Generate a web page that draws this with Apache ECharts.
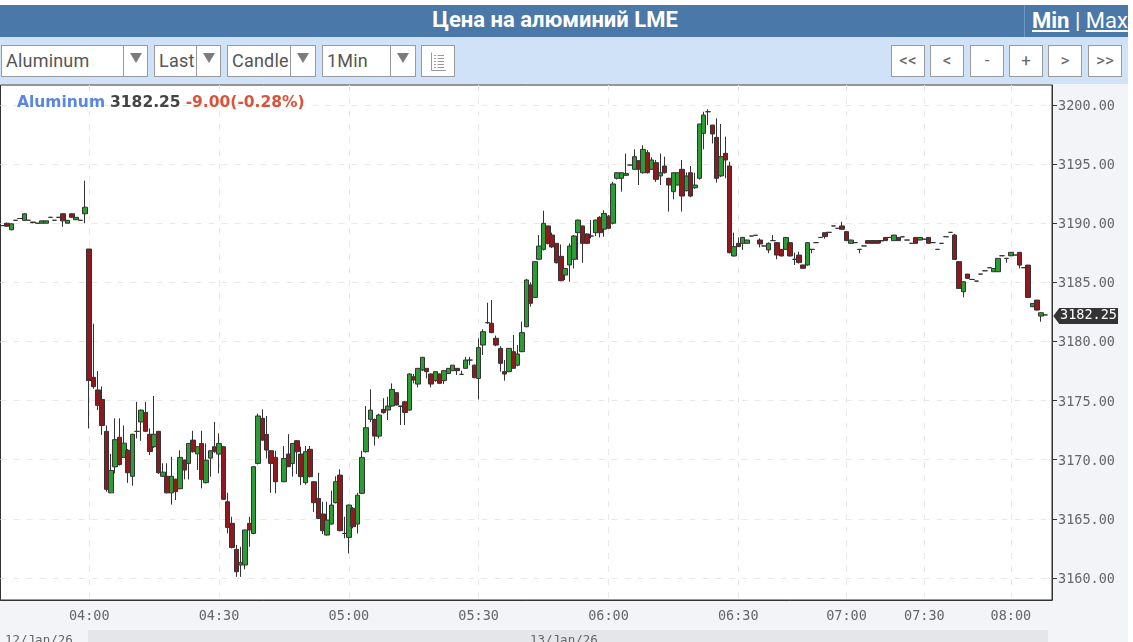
<!DOCTYPE html>
<html>
<head>
<meta charset="utf-8">
<script src="https://cdn.jsdelivr.net/npm/echarts@6/dist/echarts.min.js"></script>
<style>
html, body { margin: 0; padding: 0; background: #fff; overflow: hidden; }
body { width: 1133px; height: 642px; position: relative; font-family: Roboto, sans-serif; }
#page { position: absolute; left: 0; top: 5px; width: 1128px; height: 637px; background: #cfe2f8; overflow: hidden; }
#head { position: absolute; left: 0; top: 0; width: 1128px; height: 32px; background: #4a78a8; color: #fff; }
#head .name { position: absolute; left: 0; width: 1110px; top: 1px; text-align: center; font-size: 22px; font-weight: bold; line-height: 28px; }
#head .sw { position: absolute; left: 1024px; top: 0; height: 32px; border-left: 1px solid #6f97c0; padding-left: 7px; font-size: 22px; line-height: 31px; white-space: nowrap; }
#head u { text-underline-offset: 2px; }
.ctl { position: absolute; top: 40px; height: 30px; background: #fff; border: 1px solid #9a9a9a; font-size: 18px; line-height: 30px; color: #555; white-space: nowrap; overflow: hidden; box-sizing: content-box; }
.ctl .txt { position: absolute; left: 4px; top: 0; letter-spacing: 0.2px; }
.ctl .drop { position: absolute; top: 0; bottom: 0; right: 0; background: #fff; border-left: 1px solid #9a9a9a; }
.ctl .drop:after { content: ""; position: absolute; left: 50%; top: 7px; margin-left: -6px; border-left: 6px solid transparent; border-right: 6px solid transparent; border-top: 10px solid #7c7c7c; }
.btn { position: absolute; top: 40px; width: 32px; height: 30px; background: #fff; border: 1px solid #9a9a9a; text-align: center; font-size: 17px; line-height: 28px; color: #666; }
#chart { position: absolute; left: 0; top: 79px; width: 1128px; height: 558px; }
</style>
</head>
<body>
<div id="page">
	<div id="head">
		<div class="name">Цена на алюминий LME</div>
		<div class="sw"><u><b>Min</b></u> | <u>Max</u></div>
	</div>
	<div class="ctl" style="left:1px;width:145px"><span class="txt">Aluminum</span><span class="drop" style="width:23px"></span></div>
	<div class="ctl" style="left:154px;width:65px"><span class="txt">Last</span><span class="drop" style="width:23px"></span></div>
	<div class="ctl" style="left:227px;width:87px"><span class="txt">Candle</span><span class="drop" style="width:24px"></span></div>
	<div class="ctl" style="left:322px;width:92px"><span class="txt">1Min</span><span class="drop" style="width:24px"></span></div>
	<div class="ctl" style="left:421px;width:32px">
		<svg width="32" height="30" style="position:absolute;left:0;top:0">
			<path d="M9.5 6.5V24.5H24 M12 9.5H14 M15.5 9.5H22 M12 12.5H14 M15.5 12.5H22 M12 15.5H14 M15.5 15.5H22 M12 18.5H14 M15.5 18.5H22 M12 21.5H14 M15.5 21.5H22" stroke="#999" fill="none"/>
		</svg>
	</div>
	<div class="btn" style="left:891px">&lt;&lt;</div>
	<div class="btn" style="left:930px">&lt;</div>
	<div class="btn" style="left:970px">-</div>
	<div class="btn" style="left:1009px">+</div>
	<div class="btn" style="left:1048px">&gt;</div>
	<div class="btn" style="left:1088px">&gt;&gt;</div>
	<div id="chart"></div>
</div>
<script>
var color = [
	'#2c9c34',   // up body
	'#8e1a20',   // down body
	'#333333',   // body border and wick
	'#e8e8e8',   // grid dash
	'#666666',   // axis text
	'#f2f4f7',   // axis panel
	'#e4e6e9',   // date strip
	'#333333'    // last price tag
];

function run(h, a, b){
	var res = [];
	for(var m = a; m <= b; m++) res.push(h + ':' + (m < 10 ? '0' + m : m));
	return res;
}

// some minutes have no trade after 06:30, the axis skips them
var times = [].concat(
	run('03', 40, 59), run('04', 0, 59), run('05', 0, 59), run('06', 0, 44),
	['06:46','06:47','06:48','06:50','06:51','06:52','06:54','06:55','06:57','06:59'],
	['07:00','07:01','07:02','07:04','07:05','07:07','07:08','07:10','07:12','07:13','07:15','07:17','07:18','07:20','07:22','07:24','07:26','07:28'],
	['07:30','07:31','07:32','07:34','07:35','07:36','07:38','07:39','07:41','07:42','07:44','07:45','07:47','07:48','07:50','07:52','07:53','07:55','07:56','07:58'],
	run('08', 0, 9)
);

var tickTimes = ['04:00','04:30','05:00','05:30','06:00','06:30','07:00','07:30','08:00'];
var priceTicks = [3160, 3165, 3170, 3175, 3180, 3185, 3190, 3195, 3200];
var lastPrice = 3182.25;
var dates = ['12/Jan/26', '13/Jan/26'];

// open close low high
var ohlc = [
	// 03:40
	[3189.8,3189.8,3189.8,3189.8],[3190,3189.75,3189.7,3190.05],[3189.45,3189.95,3189.4,3190],[3190.25,3190.25,3190.25,3190.25],[3190.4,3190.4,3190.4,3190.4],
	[3190.25,3190.8,3190.2,3190.85],[3190.25,3190.25,3190.25,3190.25],[3190.05,3190.1,3190,3190.12],[3190,3190,3190,3190],[3190,3190.2,3190,3190.22],
	[3190,3190.2,3190,3190.22],[3190.5,3190.5,3190.5,3190.5],[3190.25,3190.25,3190.25,3190.25],[3190.5,3190.5,3190.5,3190.5],[3190.8,3190.2,3189.7,3190.85],
	[3190,3190.25,3190,3190.27],[3190.8,3190.5,3190.45,3190.82],[3190.3,3190.5,3190.28,3190.52],[3190.25,3190.25,3190.25,3190.25],[3190.8,3191.35,3190,3193.6],
	// 04:00
	[3187.82,3176.7,3172.65,3187.82],[3176.97,3176.18,3176,3181.5],[3175.9,3174.6,3174.2,3177.5],[3175.1,3172.9,3172.1,3176.2],[3172.4,3167.5,3167.3,3172.9],
	[3167.2,3169.1,3167.2,3170.5],[3169.4,3171.7,3168.85,3173.5],[3171.9,3169.6,3169.5,3173.5],[3170.2,3171.4,3170.2,3172.9],[3170.8,3168.9,3168.05,3170.9],
	[3168.6,3172.15,3167.8,3172.2],[3172.4,3172.4,3171.8,3174.9],[3173.2,3174.2,3171.6,3174.25],[3174,3172.4,3172.35,3174.9],[3172.15,3170.7,3170.4,3172.65],
	[3171.1,3172.15,3171,3175.4],[3172.4,3168.9,3168.8,3172.45],[3168.6,3168.95,3168.55,3169.7],[3168.6,3167.2,3167.15,3169.7],[3167.2,3168.6,3166.2,3170.25],
	[3168.35,3167.3,3166.6,3168.4],[3167.55,3170.2,3167.5,3170.8],[3169.97,3169.13,3168.34,3170],[3169.69,3171.38,3168.34,3171.4],[3171.66,3170.68,3170.6,3172.45],
	[3170.5,3171.1,3169.13,3171.15],[3171.38,3168.34,3167.58,3172.45],[3168.06,3169.97,3168,3171.38],[3170.14,3170.76,3168.57,3170.8],[3171.1,3170.68,3170.6,3173.2],
	// 04:30
	[3170.48,3171.38,3168.85,3172.23],[3171.1,3166.65,3166.6,3171.15],[3166.45,3164.28,3163.77,3167.2],[3164.62,3162.59,3162.5,3165.18],[3162.42,3160.53,3160.1,3162.8],
	[3161.1,3161.3,3160.1,3162.64],[3161.1,3164.06,3160.73,3164.1],[3164.62,3164.06,3162.64,3165.18],[3163.77,3169.41,3163.7,3169.45],[3169.69,3173.7,3169.6,3173.9],
	[3173.5,3171.66,3171.6,3174.26],[3172.14,3170.82,3170.1,3173.7],[3170.76,3169.69,3167.2,3170.8],[3170.2,3168.14,3167.15,3170.76],['-','-','-','-'],
	[3168.14,3170.1,3168.1,3171.16],[3170.48,3169.41,3169.4,3172.17],[3169.69,3171.38,3168.57,3171.4],[3171.61,3170.68,3168.79,3171.65],[3170.48,3168.57,3167.86,3171.1],
	[3168.06,3170.68,3167.9,3171.16],[3170.88,3168.57,3168.5,3171.16],[3168.14,3166.37,3165.6,3168.2],[3166.73,3165.04,3165,3168.9],[3165.41,3164,3163.72,3166.45],
	[3163.63,3164.9,3163.6,3166.45],[3164.56,3166.17,3164.5,3167.38],[3166.37,3168.14,3166.3,3168.6],[3168.7,3164,3163.95,3169.2],[3163.77,3163.76,3163.35,3165.18],
	// 05:00
	[3163.43,3166.17,3162.08,3166.2],[3165.89,3164.34,3164.2,3166],[3164.56,3167,3163.77,3167.2],[3167.16,3170.2,3167.1,3170.76],[3170.68,3172.71,3170.6,3174.54],
	[3173.42,3174.2,3173.2,3175.95],[3173.4,3172,3171.2,3173.5],[3172,3173.78,3171.8,3173.9],[3174.26,3173.98,3173.9,3175.2],[3174.2,3174.54,3173.36,3175.33],
	[3174.54,3175.95,3174.5,3176.46],[3175.67,3174.63,3174.6,3175.7],[3174.55,3174.5,3172.94,3174.56],[3174.9,3174,3172.94,3174.95],[3174.2,3177.25,3174.15,3177.3],
	[3177.02,3176.74,3176.46,3177.25],[3176.4,3177.73,3176.12,3177.75],[3177.59,3178.66,3177.5,3178.7],[3177.73,3177.45,3176.88,3177.75],[3177.25,3176.4,3176.12,3177.3],
	[3176.69,3177.45,3176.6,3177.5],[3177.25,3176.46,3176.4,3177.3],[3176.69,3177.53,3176.4,3177.55],[3177.3,3177.73,3177.25,3177.75],[3177.53,3178,3177.5,3178.02],
	[3177.73,3177.53,3177.17,3177.75],[3177.22,3177.22,3177.2,3177.53],[3177.73,3178.43,3177.7,3178.7],[3178.43,3178.43,3178,3178.7],[3178,3176.94,3176.9,3178.05],
	// 05:30
	[3176.88,3179.48,3175.1,3180.27],[3179.7,3180.83,3178.86,3181.03],[3181.6,3181.58,3181.5,3183.28],[3181.54,3180.75,3180.7,3183.5],[3180.27,3179.7,3179.6,3180.5],
	[3179.42,3178.15,3177.45,3179.6],[3177.45,3177.25,3176.69,3178.43],[3177.45,3179.42,3177.4,3179.45],[3179.14,3177.73,3177.7,3180.55],[3178,3178.94,3177.9,3179.7],
	[3179.14,3180.75,3179.1,3181.68],[3181.25,3185.2,3181.2,3185.3],[3184.78,3183.23,3182.95,3185],[3183.73,3186.75,3183.7,3186.8],[3186.95,3188.07,3186.9,3189],
	[3187.79,3189.99,3187.7,3191.06],[3189.77,3188.3,3188.2,3189.8],[3189,3188,3187.9,3189.2],[3188.3,3186.66,3186.6,3188.32],[3187.2,3185.14,3185.1,3188.2],
	[3185.62,3186.18,3185.2,3186.2],[3186.47,3188.07,3185.06,3188.3],[3186.95,3188.92,3186.18,3189],[3189.2,3190.27,3186.9,3190.3],[3189.77,3188.3,3186.66,3189.8],
	[3189.09,3188.3,3188.25,3189.15],[3188.92,3188.92,3188.72,3190.27],[3189.2,3190.27,3188.92,3190.3],[3190.5,3189.2,3188.8,3190.6],[3189.5,3190.83,3188.86,3191.1],
	// 06:00
	[3190.6,3189.57,3189.5,3190.7],[3190,3193.32,3189.9,3193.5],[3193.8,3194.27,3193.7,3194.3],[3193.8,3194.27,3192.67,3194.3],[3194.05,3194.2,3194,3195.9],
	[3194.92,3194.92,3194.92,3194.92],[3194.56,3195.63,3194.5,3196.25],[3195.29,3194.56,3193.23,3195.3],[3194.27,3196.25,3194.2,3196.6],[3195.97,3194.27,3194.2,3196.2],
	[3194.56,3195.35,3194.5,3195.57],[3195.12,3193.71,3193.5,3195.35],[3194,3194.27,3193.23,3195.9],[3194.84,3194.27,3194.2,3195.63],[3193.8,3193.23,3190.98,3193.85],
	[3192.67,3194.27,3192.02,3194.3],[3193.23,3194.27,3193.2,3194.3],[3194.56,3192.3,3190.98,3195.35],[3192.75,3194,3192.7,3194.3],[3194.27,3192.3,3192.2,3194.84],
	[3193,3193.23,3192.9,3194.27],[3193.8,3198.39,3193.7,3198.4],[3197.6,3199.15,3196.25,3199.43],[3199.43,3199.43,3198.3,3199.63],[3198.3,3197.55,3196.75,3198.32],
	[3197.26,3193.8,3193.43,3198.87],[3194,3195.63,3193.9,3198.39],[3195.91,3195.35,3193.8,3197.32],[3194.84,3187.51,3187.45,3195.2],[3187.23,3188.02,3187.2,3189.2],
	// 06:30
	[3188.3,3188.02,3188,3188.8],[3188.3,3188.8,3187.74,3188.85],[3188.3,3188.58,3188.28,3188.6],[3188.92,3188.92,3188.92,3188.92],[3188.98,3188.98,3188.98,3188.98],
	[3188.58,3188.25,3187.96,3188.72],[3188.08,3188.08,3188.08,3188.08],[3187.74,3188.3,3187.46,3188.38],[3188.53,3188.53,3188.5,3189],[3188.36,3187.31,3186.95,3188.4],
	[3187.79,3187.23,3187.2,3187.8],[3187.79,3188.8,3187.75,3188.82],[3188.36,3187.23,3187.2,3188.4],[3186.95,3186.95,3186.47,3187.51],[3187.31,3186.67,3186.6,3187.6],
	[3186.47,3186.19,3186.15,3186.5],[3186.47,3188.36,3186.4,3188.4],[3187.79,3187.79,3187.46,3187.8],[3188.36,3188.36,3188.36,3188.36],[3188.8,3188.8,3188.8,3188.8],
	[3189.2,3188.87,3188.7,3189.2],[3189.23,3189.23,3189.23,3189.23],[3189.77,3189.77,3189.77,3189.77],[3189.57,3189.57,3189.57,3189.57],[3189.77,3189.49,3189.45,3190.13],
	// 07:00
	[3189.29,3188.53,3188.5,3189.3],[3188.3,3188.58,3188.28,3188.6],[3188.36,3188.36,3188.36,3188.36],[3187.79,3187.79,3187.46,3187.8],[3188.08,3188.08,3188.08,3188.08],
	[3188.53,3188.3,3188.28,3188.55],[3188.53,3188.3,3188.28,3188.55],[3188.53,3188.3,3188.28,3188.55],[3188.53,3188.5,3188.3,3188.55],[3188.8,3188.53,3188.5,3188.82],
	[3188.8,3188.8,3188.8,3188.8],[3188.53,3189,3188.5,3189.02],[3188.8,3188.53,3188.5,3188.82],[3188.85,3188.85,3188.85,3188.85],[3188.58,3188.58,3188.58,3188.58],
	[3188.3,3188.3,3188.3,3188.3],[3188.8,3188.3,3188.28,3188.82],[3188.58,3188.8,3188.55,3188.82],
	// 07:30
	[3188.65,3188.65,3188.65,3188.65],[3188.8,3188.3,3188.28,3188.82],[3188.36,3188.36,3188.36,3188.36],[3187.79,3187.79,3187.79,3187.79],[3188.3,3188.3,3188.3,3188.3],
	[3188.86,3188.86,3188.86,3188.86],[3189.23,3189.23,3189.23,3189.23],[3189,3186.94,3186.9,3189.1],[3186.75,3184.49,3184.45,3186.8],[3184.21,3185.05,3183.73,3185.1],
	[3185.7,3185.34,3185.3,3185.72],[3185.25,3185.25,3185.25,3185.25],[3185.11,3185.11,3185.11,3185.11],[3185.7,3185.7,3185.7,3185.7],[3185.98,3185.98,3185.98,3185.98],
	[3186.24,3186.24,3186.24,3186.24],[3185.9,3186.18,3185.88,3186.2],[3185.9,3187.03,3185.88,3187.05],[3187.25,3187.25,3187.25,3187.25],[3187.03,3187.03,3186.66,3187.05],
	// 08:00
	[3187.25,3187.54,3187.22,3187.56],[3187.31,3187.31,3187.31,3187.31],[3187.54,3186.46,3186.18,3187.55],[3186.24,3186.24,3186.24,3186.24],[3186.46,3183.73,3183.7,3186.48],
	[3182.94,3183.22,3182.9,3183.25],[3183.5,3182.66,3182.62,3183.52],[3182.15,3182.43,3181.67,3182.45],[3182.25,3182.25,3182.25,3182.25],['-','-','-','-']
];

function isTick(index, value){ return tickTimes.indexOf(value) >= 0; }

var monoFont = '"DejaVu Sans Mono", monospace';
var chart = echarts.init(document.getElementById('chart'));
chart.setOption({
	animation: false,
	backgroundColor: color[5],
	grid: {
		show: true, left: 0.5, top: 1, width: 1051.5, height: 515,
		backgroundColor: '#fff', borderColor: '#333', borderWidth: 1
	},
	title: {
		left: 17, top: 10,
		padding: 0,
		text: '{a|Aluminum} {b|' + lastPrice + '} {c|-9.00(-0.28%)}',
		textStyle: {
			rich: {
				a: { fontFamily: 'DejaVu Sans', fontSize: 15.5, fontWeight: 'bold', color: '#5b86e0' },
				b: { fontFamily: 'DejaVu Sans', fontSize: 15.5, fontWeight: 'bold', color: '#444' },
				c: { fontFamily: 'DejaVu Sans', fontSize: 15.5, fontWeight: 'bold', color: '#d9543a' }
			}
		}
	},
	xAxis: {
		type: 'category',
		data: times,
		axisLine: { lineStyle: { color: '#333' } },
		axisTick: { alignWithLabel: true, interval: isTick, length: 5, lineStyle: { color: '#333' } },
		axisLabel: { interval: isTick, margin: 9, hideOverlap: false, color: color[4], fontFamily: monoFont, fontSize: 13.5 },
		splitLine: { show: true, alignWithLabel: true, interval: isTick, lineStyle: { color: color[3], type: [6, 7] } }
	},
	yAxis: {
		type: 'value',
		position: 'right',
		min: 3158.14,
		max: 3201.69,
		axisLine: { show: true, lineStyle: { color: '#333' } },
		axisTick: { show: true, length: 5, customValues: priceTicks, lineStyle: { color: '#333' } },
		axisLabel: {
			margin: 6, customValues: priceTicks,
			formatter: function(v){ return '{p|' + v.toFixed(2) + '}'; },
			rich: { p: { padding: [3, 0, 0, 0], color: color[4], fontFamily: monoFont, fontSize: 13.5 } }
		},
		splitLine: { show: true, lineStyle: { color: color[3], type: [6, 7] } }
	},
	graphic: [
		{ type: 'rect', silent: true, shape: { x: 88, y: 546, width: 960, height: 12 }, style: { fill: color[6] } },
		{ type: 'text', silent: true, x: 5, y: 550, style: { text: dates[0], fill: color[4], font: '12.5px ' + monoFont } },
		{ type: 'text', silent: true, x: 530, y: 550, style: { text: dates[1], fill: color[4], font: '12.5px ' + monoFont } }
	],
	series: [{
		type: 'candlestick',
		barWidth: 5,
		itemStyle: {
			color: color[0], color0: color[1],
			borderColor: color[2], borderColor0: color[2],
			borderColorDoji: color[2], borderWidth: 1
		},
		data: ohlc,
		markPoint: {
			silent: true,
			animation: false,
			data: [
				{
					coord: [times[times.length - 1], lastPrice],
					symbol: 'triangle', symbolSize: [16, 6], symbolRotate: 90, symbolOffset: [6.5, 1],
					itemStyle: { color: color[7] }, label: { show: false }
				},
				{
					coord: [times[times.length - 1], lastPrice],
					symbol: 'rect', symbolSize: [59, 16], symbolOffset: [38.7, 1],
					itemStyle: { color: color[7] },
					label: { show: true, position: 'inside', formatter: lastPrice.toFixed(2), color: '#fff', fontFamily: monoFont, fontSize: 13.5 }
				}
			]
		}
	}]
});
</script>
</body>
</html>
